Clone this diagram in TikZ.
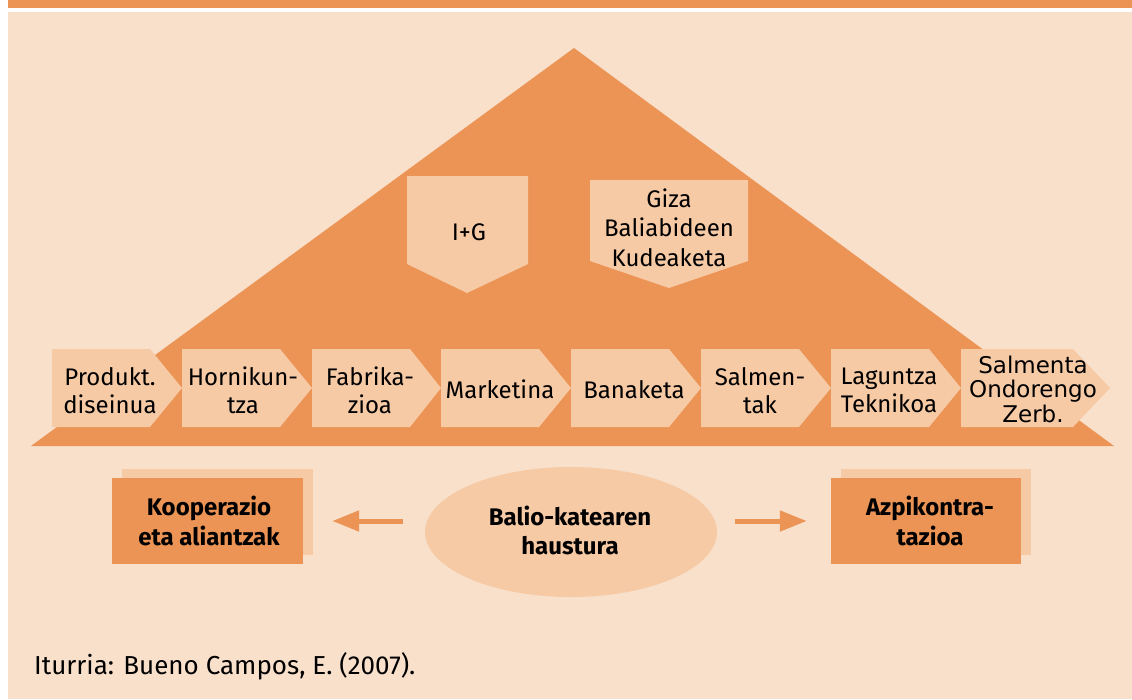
\documentclass[tikz,border=0pt]{standalone}
\usepackage{fontspec}
\setmainfont{Fira Sans}
\newfontfamily\dejavu{DejaVu Sans}
\usetikzlibrary{arrows.meta,shapes.geometric,shadows}

\definecolor{vcorange}{RGB}{236,148,85}
\definecolor{vclight}{RGB}{247,202,166}
\definecolor{vcback}{RGB}{249,224,203}

% multi-line label whose baseline is the baseline of its first line
\newcommand{\vclines}[1]{\begin{tabular}[t]{@{}c@{}}#1\end{tabular}}

\tikzset{
  chevtext/.style={anchor=base,inner sep=0pt,font=\fontsize{24}{28}\selectfont},
  boldtext/.style={anchor=base,inner sep=0pt,font=\fontsize{24}{30}\selectfont\bfseries},
  optbox/.style={rectangle,fill=vcorange,inner sep=0pt,
    general shadow={fill=vclight,shadow xshift=10pt,shadow yshift=9pt}},
  vcarrow/.style={draw=vcorange,line width=5pt,
    -{Triangle[length=27pt,width=20pt]}},
}

% pentagon pointing right: left edge, end of straight part, tip
\newcommand{\vcchev}[3]{\fill[vclight] (#1,349) -- (#2,349) -- (#3,388) -- (#2,427) -- (#1,427) -- cycle;}

\begin{document}
\begin{tikzpicture}[x=1pt,y=-1pt]
  \useasboundingbox (0,0) rectangle (1132,699);
  \fill[white] (0,0) rectangle (1132,699);
  % header rule and panel
  \fill[vcorange] (8,0) rectangle (1132,8);
  \fill[vcback] (8,12) rectangle (1132,699);

  % value-chain pyramid
  \fill[vcorange] (574,48) -- (1114,446) -- (31,446) -- cycle;

  % support activities
  \fill[vclight] (407,176) -- (528,176) -- (528,264) -- (467,293) -- (407,264) -- cycle;
  \fill[vclight] (590,180) -- (748,180) -- (748,261) -- (669,288) -- (590,261) -- cycle;
  \node[chevtext] (ig) at (469,240) {I+G};
  \node[chevtext,font=\fontsize{24}{29.5}\selectfont] (giza) at (669,207)
    {\vclines{Giza\\Baliabideen\\Kudeaketa}};

  % primary activities
  \vcchev{52}{150}{182}
  \vcchev{182}{280}{312}
  \vcchev{312}{410}{441}
  \vcchev{441}{539}{571}
  \vcchev{571}{669}{701}
  \vcchev{701}{799}{831}
  \vcchev{831}{929}{961}
  \vcchev{961}{1073}{1110}
  \node[chevtext] (prod) at (110,385) {\vclines{Produkt.\\diseinua}};
  \node[chevtext] (horn) at (243,385) {\vclines{Hornikun-\\tza}};
  \node[chevtext] (fabr) at (370,385) {\vclines{Fabrika-\\zioa}};
  \node[chevtext] (mark) at (500,398) {Marketina};
  \node[chevtext] (bana) at (634,398) {Banaketa};
  \node[chevtext] (salm) at (760,385) {\vclines{Salmen-\\tak}};
  \node[chevtext] (lagu) at (889,384) {\vclines{Laguntza\\Teknikoa}};
  \node[chevtext,font=\dejavu\fontsize{23}{24}\selectfont] (ondo) at (1033,373)
    {\vclines{Salmenta\\Ondorengo\\Zerb.}};

  % break-up of the value chain
  \node[ellipse,fill=vclight,minimum width=292pt,minimum height=130pt,inner sep=0pt]
    (bal) at (571,532) {};
  \node[boldtext,font=\fontsize{24}{29}\selectfont\bfseries] (baltext) at (570,525)
    {\vclines{Balio-katearen\\haustura}};

  \node[optbox,minimum width=191pt,minimum height=86pt] (koop) at (207.5,521) {};
  \node[boldtext] (kooptext) at (209,515) {\vclines{Kooperazio\\eta aliantzak}};

  \node[optbox,minimum width=190pt,minimum height=86pt] (azpi) at (926,521) {};
  \node[boldtext] (azpitext) at (930,515) {\vclines{Azpikontra-\\tazioa}};

  \draw[vcarrow,shorten <=22pt,shorten >=29pt] (koop.east -| bal.west) -- (koop.east);
  \draw[vcarrow,shorten <=18pt,shorten >=24pt] (azpi.west -| bal.east) -- (azpi.west);

  % source
  \node[anchor=base west,inner sep=0pt,font=\fontsize{26}{30}\selectfont] (src) at (34,674)
    {Iturria: Bueno Campos, E. (2007).};
\end{tikzpicture}
\end{document}
